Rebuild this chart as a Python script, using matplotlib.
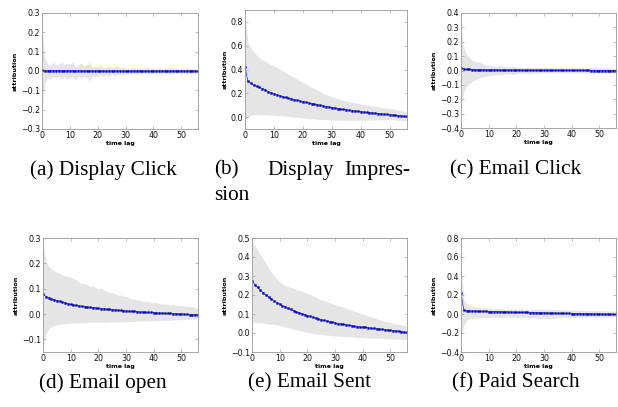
import numpy as np
import matplotlib
matplotlib.use('Agg')
import matplotlib.pyplot as plt

lag = np.arange(57)

# (a) Display Click
a_mean = [0.004, 0.002, 0.001, 0.002, 0.001, 0.001, 0.002, 0.001, 0.001, 0.001,
          0.001, 0.001, 0.000, 0.001, 0.001, 0.000, 0.001, 0.001, 0.000, 0.000,
          0.001, 0.000, 0.000, 0.000, 0.001, 0.000, 0.000, 0.000, 0.000, 0.000,
          0.000, 0.000, 0.000, 0.000, 0.000, 0.000, 0.000, 0.000, 0.000, 0.000,
          0.000, 0.000, 0.000, 0.000, 0.000, 0.000, 0.000, 0.000, 0.000, 0.000,
          0.000, 0.000, 0.000, 0.000, 0.000, 0.000, 0.000]
a_upper = [0.22, 0.07, 0.035, 0.03, 0.045, 0.03, 0.035, 0.045, 0.03, 0.04,
           0.035, 0.048, 0.02, 0.03, 0.04, 0.025, 0.03, 0.045, 0.02, 0.025,
           0.022, 0.03, 0.018, 0.02, 0.025, 0.02, 0.02, 0.028, 0.015, 0.02,
           0.015, 0.012, 0.015, 0.018, 0.012, 0.015, 0.012, 0.015, 0.02, 0.012,
           0.015, 0.012, 0.018, 0.012, 0.015, 0.012, 0.02, 0.012, 0.015, 0.012,
           0.015, 0.012, 0.018, 0.012, 0.015, 0.012, 0.012]
a_lower = [-0.2, -0.06, -0.035, -0.04, -0.03, -0.035, -0.03, -0.04, -0.03, -0.04,
           -0.035, -0.03, -0.045, -0.03, -0.035, -0.03, -0.035, -0.05, -0.025, -0.03,
           -0.025, -0.02, -0.025, -0.02, -0.028, -0.018, -0.022, -0.018, -0.02, -0.015,
           -0.018, -0.012, -0.015, -0.012, -0.016, -0.012, -0.014, -0.012, -0.015, -0.012,
           -0.016, -0.012, -0.014, -0.012, -0.015, -0.012, -0.018, -0.012, -0.014, -0.012,
           -0.015, -0.012, -0.014, -0.012, -0.013, -0.012, -0.012]

# (b) Display Impression
b_mean = [0.42, 0.30, 0.285, 0.272, 0.26, 0.25, 0.24, 0.23, 0.215, 0.205,
          0.195, 0.188, 0.18, 0.173, 0.166, 0.16, 0.153, 0.147, 0.141, 0.135,
          0.13, 0.125, 0.119, 0.114, 0.109, 0.104, 0.099, 0.094, 0.089, 0.085,
          0.08, 0.076, 0.072, 0.068, 0.064, 0.061, 0.058, 0.055, 0.052, 0.049,
          0.046, 0.043, 0.04, 0.038, 0.035, 0.033, 0.03, 0.028, 0.025, 0.023,
          0.02, 0.018, 0.015, 0.013, 0.01, 0.008, 0.006]
b_upper = [0.87, 0.63, 0.58, 0.55, 0.52, 0.5, 0.48, 0.47, 0.455, 0.44,
           0.43, 0.42, 0.405, 0.39, 0.375, 0.36, 0.345, 0.335, 0.32, 0.305,
           0.29, 0.28, 0.265, 0.25, 0.24, 0.23, 0.215, 0.2, 0.19, 0.18,
           0.17, 0.165, 0.155, 0.15, 0.14, 0.135, 0.13, 0.125, 0.12, 0.115,
           0.11, 0.105, 0.1, 0.097, 0.093, 0.09, 0.087, 0.083, 0.08, 0.076,
           0.072, 0.07, 0.065, 0.06, 0.055, 0.048, 0.042]
b_lower = [-0.02, 0.0, 0.015, 0.02, 0.022, 0.02, 0.018, 0.02, 0.018, 0.015,
           0.015, 0.012, 0.012, 0.01, 0.008, 0.005, 0.003, 0.0, -0.002, -0.005,
           -0.008, -0.01, -0.012, -0.015, -0.015, -0.018, -0.02, -0.02, -0.022, -0.022,
           -0.025, -0.024, -0.026, -0.025, -0.027, -0.026, -0.025, -0.027, -0.026, -0.025,
           -0.027, -0.025, -0.024, -0.026, -0.025, -0.023, -0.022, -0.024, -0.022, -0.021,
           -0.02, -0.022, -0.024, -0.026, -0.028, -0.03, -0.03]

# (c) Email Click
c_mean = [0.015, 0.01, 0.008, 0.007, 0.006, 0.006, 0.005, 0.005, 0.005, 0.004,
          0.004, 0.004, 0.004, 0.004, 0.003, 0.003, 0.003, 0.003, 0.003, 0.003,
          0.003, 0.003, 0.002, 0.002, 0.002, 0.002, 0.002, 0.002, 0.002, 0.002,
          0.002, 0.002, 0.002, 0.001, 0.001, 0.001, 0.001, 0.001, 0.001, 0.001,
          0.001, 0.001, 0.001, 0.001, 0.001, 0.001, 0.001, 0.000, 0.000, 0.000,
          0.000, 0.000, 0.000, 0.000, 0.000, 0.000, 0.000]
c_upper = [0.30, 0.16, 0.11, 0.09, 0.075, 0.065, 0.06, 0.055, 0.045, 0.04,
           0.035, 0.035, 0.03, 0.03, 0.035, 0.03, 0.028, 0.025, 0.025, 0.03,
           0.025, 0.022, 0.025, 0.02, 0.022, 0.025, 0.02, 0.022, 0.02, 0.018,
           0.02, 0.022, 0.018, 0.02, 0.018, 0.02, 0.022, 0.018, 0.02, 0.018,
           0.02, 0.018, 0.022, 0.018, 0.02, 0.018, 0.02, 0.018, 0.022, 0.018,
           0.02, 0.018, 0.02, 0.018, 0.018, 0.016, 0.016]
c_lower = [-0.28, -0.15, -0.11, -0.09, -0.075, -0.065, -0.055, -0.05, -0.045, -0.04,
           -0.035, -0.035, -0.03, -0.028, -0.03, -0.028, -0.025, -0.022, -0.025, -0.028,
           -0.022, -0.02, -0.022, -0.018, -0.02, -0.022, -0.018, -0.02, -0.018, -0.016,
           -0.018, -0.02, -0.016, -0.018, -0.016, -0.018, -0.02, -0.016, -0.018, -0.016,
           -0.018, -0.016, -0.02, -0.016, -0.018, -0.016, -0.018, -0.016, -0.02, -0.016,
           -0.018, -0.016, -0.018, -0.016, -0.016, -0.015, -0.015]

# (d) Email open
d_mean = [0.08, 0.069, 0.064, 0.06, 0.056, 0.053, 0.05, 0.047, 0.044, 0.041,
          0.038, 0.036, 0.034, 0.032, 0.031, 0.029, 0.028, 0.026, 0.025, 0.024,
          0.022, 0.021, 0.02, 0.019, 0.018, 0.017, 0.016, 0.015, 0.014, 0.013,
          0.012, 0.011, 0.01, 0.01, 0.009, 0.008, 0.008, 0.007, 0.006, 0.006,
          0.005, 0.004, 0.004, 0.003, 0.003, 0.002, 0.002, 0.001, 0.001, 0.0,
          0.0, -0.001, -0.001, -0.002, -0.002, -0.003, -0.003]
d_upper = [0.28, 0.21, 0.19, 0.18, 0.17, 0.165, 0.16, 0.155, 0.15, 0.15,
           0.145, 0.14, 0.135, 0.125, 0.12, 0.12, 0.115, 0.11, 0.11, 0.105,
           0.1, 0.1, 0.095, 0.09, 0.085, 0.085, 0.08, 0.075, 0.075, 0.07,
           0.07, 0.065, 0.06, 0.06, 0.055, 0.055, 0.05, 0.05, 0.05, 0.045,
           0.045, 0.045, 0.04, 0.04, 0.04, 0.038, 0.035, 0.038, 0.035, 0.035,
           0.033, 0.032, 0.03, 0.03, 0.028, 0.025, 0.02]
d_lower = [-0.13, -0.08, -0.06, -0.05, -0.045, -0.042, -0.04, -0.04, -0.038, -0.037,
           -0.036, -0.036, -0.035, -0.035, -0.034, -0.035, -0.034, -0.033, -0.034, -0.033,
           -0.033, -0.032, -0.033, -0.032, -0.031, -0.032, -0.031, -0.03, -0.031, -0.03,
           -0.032, -0.03, -0.029, -0.03, -0.028, -0.029, -0.028, -0.027, -0.028, -0.026,
           -0.027, -0.026, -0.025, -0.026, -0.024, -0.025, -0.024, -0.023, -0.024, -0.022,
           -0.023, -0.022, -0.021, -0.022, -0.02, -0.02, -0.018]

# (e) Email Sent
e_mean = [0.275, 0.255, 0.24, 0.225, 0.212, 0.2, 0.19, 0.18, 0.17, 0.16,
          0.152, 0.144, 0.137, 0.13, 0.124, 0.118, 0.112, 0.107, 0.102, 0.097,
          0.092, 0.087, 0.083, 0.078, 0.074, 0.07, 0.066, 0.063, 0.06, 0.056,
          0.053, 0.05, 0.048, 0.045, 0.043, 0.041, 0.038, 0.036, 0.034, 0.032,
          0.031, 0.029, 0.027, 0.026, 0.024, 0.022, 0.021, 0.019, 0.017, 0.016,
          0.014, 0.012, 0.011, 0.009, 0.007, 0.005, 0.003]
e_upper = [0.48, 0.46, 0.44, 0.41, 0.39, 0.37, 0.34, 0.32, 0.3, 0.285,
           0.27, 0.26, 0.25, 0.245, 0.24, 0.235, 0.23, 0.225, 0.22, 0.215,
           0.21, 0.205, 0.195, 0.19, 0.18, 0.175, 0.17, 0.165, 0.16, 0.155,
           0.15, 0.145, 0.14, 0.135, 0.13, 0.125, 0.12, 0.115, 0.11, 0.105,
           0.1, 0.095, 0.09, 0.085, 0.08, 0.075, 0.07, 0.065, 0.062, 0.058,
           0.055, 0.05, 0.048, 0.045, 0.042, 0.04, 0.035]
e_lower = [0.06, 0.058, 0.055, 0.055, 0.052, 0.05, 0.048, 0.047, 0.045, 0.043,
           0.04, 0.036, 0.032, 0.028, 0.024, 0.02, 0.016, 0.013, 0.01, 0.006,
           0.003, 0.0, -0.002, -0.004, -0.006, -0.008, -0.01, -0.011, -0.012, -0.014,
           -0.015, -0.016, -0.017, -0.018, -0.019, -0.02, -0.021, -0.022, -0.023, -0.024,
           -0.025, -0.026, -0.027, -0.027, -0.028, -0.028, -0.029, -0.029, -0.03, -0.03,
           -0.031, -0.031, -0.032, -0.032, -0.033, -0.033, -0.034]

# (f) Paid Search
f_mean = [0.22, 0.04, 0.035, 0.033, 0.032, 0.031, 0.03, 0.029, 0.028, 0.027,
          0.026, 0.025, 0.025, 0.024, 0.023, 0.023, 0.022, 0.021, 0.02, 0.019,
          0.018, 0.018, 0.017, 0.016, 0.016, 0.015, 0.014, 0.014, 0.013, 0.012,
          0.012, 0.011, 0.01, 0.01, 0.009, 0.008, 0.008, 0.007, 0.006, 0.006,
          0.005, 0.004, 0.004, 0.003, 0.002, 0.002, 0.001, 0.001, 0.0, 0.0,
          0.0, -0.001, -0.002, -0.002, -0.003, -0.004, -0.005]
f_upper = [0.5, 0.16, 0.11, 0.09, 0.08, 0.075, 0.07, 0.068, 0.065, 0.063,
           0.06, 0.058, 0.056, 0.055, 0.054, 0.053, 0.052, 0.05, 0.052, 0.05,
           0.05, 0.049, 0.05, 0.048, 0.05, 0.049, 0.05, 0.048, 0.05, 0.052,
           0.05, 0.048, 0.05, 0.047, 0.046, 0.045, 0.046, 0.044, 0.045, 0.043,
           0.045, 0.042, 0.04, 0.041, 0.039, 0.038, 0.037, 0.036, 0.036, 0.035,
           0.035, 0.034, 0.033, 0.032, 0.031, 0.03, 0.03]
f_lower = [-0.25, -0.12, -0.07, -0.05, -0.045, -0.04, -0.04, -0.038, -0.037, -0.036,
           -0.036, -0.035, -0.036, -0.035, -0.036, -0.037, -0.036, -0.035, -0.037, -0.036,
           -0.038, -0.037, -0.038, -0.036, -0.038, -0.04, -0.042, -0.04, -0.045, -0.048,
           -0.05, -0.048, -0.05, -0.046, -0.045, -0.042, -0.04, -0.04, -0.038, -0.037,
           -0.036, -0.035, -0.036, -0.034, -0.035, -0.033, -0.034, -0.032, -0.033, -0.031,
           -0.032, -0.031, -0.03, -0.031, -0.03, -0.03, -0.03]

panels = [
    (a_mean, a_lower, a_upper, (-0.3, 0.3), [-0.3, -0.2, -0.1, 0.0, 0.1, 0.2, 0.3]),
    (b_mean, b_lower, b_upper, (-0.1, 0.9), [0.0, 0.2, 0.4, 0.6, 0.8]),
    (c_mean, c_lower, c_upper, (-0.4, 0.4), [-0.4, -0.3, -0.2, -0.1, 0.0, 0.1, 0.2, 0.3, 0.4]),
    (d_mean, d_lower, d_upper, (-0.15, 0.3), [-0.1, 0.0, 0.1, 0.2, 0.3]),
    (e_mean, e_lower, e_upper, (-0.1, 0.5), [-0.1, 0.0, 0.1, 0.2, 0.3, 0.4, 0.5]),
    (f_mean, f_lower, f_upper, (-0.4, 0.8), [-0.4, -0.2, 0.0, 0.2, 0.4, 0.6, 0.8]),
]

W, H = 618.0, 407.0
# axes boxes in pixels: left, top, right, bottom
boxes = [(42, 13, 198, 129), (245, 10, 407, 129), (461, 13, 616, 128),
         (43, 238, 198, 352), (252, 238, 407, 352), (461, 238, 616, 352)]

fig = plt.figure(figsize=(6.18, 4.07), dpi=100)

for (mean, lo, up, ylim, yt), (l, t, r, b) in zip(panels, boxes):
    ax = fig.add_axes([l / W, 1 - b / H, (r - l) / W, (b - t) / H])
    ax.fill_between(lag, lo, up, color='#e5e5e5', lw=0)
    ax.plot(lag, mean, color='#1010ee', lw=0.45, marker='s', ms=1.3,
            mfc='#0000cc', mec='#000088', mew=0.3)
    ax.set_xlim(0, 56)
    ax.set_ylim(*ylim)
    ax.set_xticks([0, 10, 20, 30, 40, 50])
    ax.set_yticks(yt)
    ax.set_yticklabels(['%.1f' % v if v >= 0 else '\u2212%.1f' % -v for v in yt])
    ax.tick_params(direction='in', length=2, width=0.4, labelsize=5.7,
                   top=True, right=True, pad=1.5, colors='0.55', labelcolor='#111111')
    for s in ax.spines.values():
        s.set_color('0.6')
        s.set_linewidth(0.6)
    ax.set_xlabel('time lag', fontsize=4.5, fontweight='bold', labelpad=1)
    ax.set_ylabel('attribution', fontsize=4.6, fontweight='bold', labelpad=2)

serif = 'Liberation Serif'
fs = 15.3
fig.text(103 / W, 1 - 170 / H, '(a) Display Click', family=serif, fontsize=fs,
         ha='center', va='center')
fig.text(214 / W, 1 - 170 / H, '(b)', family=serif, fontsize=fs, ha='left', va='center')
fig.text(301 / W, 1 - 170 / H, 'Display', family=serif, fontsize=fs, ha='center', va='center')
fig.text(410 / W, 1 - 170 / H, 'Impres-', family=serif, fontsize=fs, ha='right', va='center')
fig.text(214 / W, 1 - 196 / H, 'sion', family=serif, fontsize=fs, ha='left', va='center')
fig.text(516 / W, 1 - 170 / H, '(c) Email Click', family=serif, fontsize=fs,
         ha='center', va='center')
fig.text(103 / W, 1 - 383 / H, '(d) Email open', family=serif, fontsize=fs,
         ha='center', va='center')
fig.text(310 / W, 1 - 383 / H, '(e) Email Sent', family=serif, fontsize=fs,
         ha='center', va='center')
fig.text(516 / W, 1 - 383 / H, '(f) Paid Search', family=serif, fontsize=fs,
         ha='center', va='center')

fig.savefig('out.png', dpi=100)
